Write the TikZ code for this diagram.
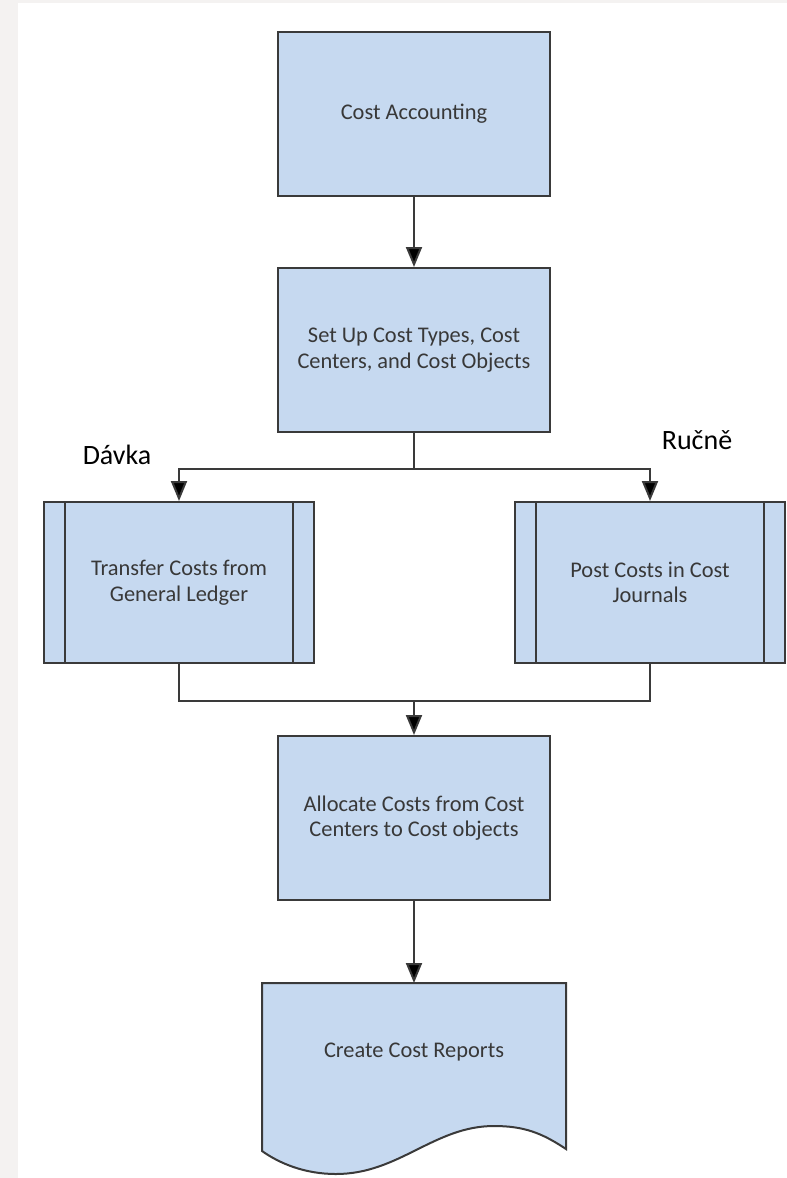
\documentclass[tikz,border=0pt]{standalone}
\usepackage{fontspec}
\setmainfont{Carlito}
\usepackage{tikz}
\definecolor{boxfill}{HTML}{C6D9F0}
\definecolor{boxline}{HTML}{3A3A3A}
\definecolor{boxtext}{HTML}{383838}
\definecolor{bgband}{HTML}{F4F2F1}
\tikzstyle{block}=[draw=boxline, fill=boxfill, line width=1pt, minimum width=136pt, minimum height=82pt, align=center, text=boxtext, font=\fontsize{11.2}{12.8}\selectfont]
\tikzstyle{predef}=[block, minimum width=135pt, minimum height=80.5pt]
\tikzstyle{edge}=[line width=1pt, draw=boxline]
\tikzstyle{arrow}=[edge,-{Triangle[width=8pt,length=10pt,fill=black]}]
\tikzstyle{tag}=[font=\fontsize{14}{16}\selectfont]
\usetikzlibrary{arrows.meta,positioning}

\begin{document}
\begin{tikzpicture}[x=0.5pt,y=-0.5pt]
\useasboundingbox (0,0) rectangle (787,1178);
\clip (0,0) rectangle (787,1178);
\fill[bgband] (0,0) rectangle (787,1178);
\fill[white] (18,3) rectangle (787,1178);
\node (acc) [block] at (414,114) {Cost Accounting};
\node (setup) [block, below=35pt of acc] {Set Up Cost Types, Cost\\Centers, and Cost Objects};
\coordinate [below=18pt of setup] (split);
\node (transfer) [predef, below=34pt of setup, xshift=-117.5pt] {Transfer Costs from\\General Ledger};
\node (post) [predef, below=34pt of setup, xshift=118pt] {Post Costs in Cost\\Journals};
\foreach \n in {transfer,post} {
  \draw[edge] ([xshift=11pt]\n.north west) -- ([xshift=11pt]\n.south west);
  \draw[edge] ([xshift=-11pt]\n.north east) -- ([xshift=-11pt]\n.south east);
}
\node (alloc) [block, below=151pt of setup] {Allocate Costs from Cost\\Centers to Cost objects};
\coordinate [above=17pt of alloc] (join);
\coordinate [below=41pt of alloc] (rep);
% document shape
\begin{scope}[shift={(rep)}]
\draw[edge, fill=boxfill] (-152,0) -- (152,0) -- (152,166)
  .. controls (128,150) and (110,143) .. (80,143)
  .. controls (20,143) and (-15,191) .. (-78,191)
  .. controls (-110,191) and (-135,180) .. (-152,168) -- cycle;
\node (report) [text=boxtext, font=\fontsize{11.2}{12.8}\selectfont] at (0,69) {Create Cost Reports};
\end{scope}
\node (batch) [tag] at (117,455) {Dávka};
\node (manual) [tag] at (697,440) {Ručně};
\draw[arrow] (acc) -- (setup);
\draw[edge] (setup) -- (split);
\draw[arrow] (split) -| (transfer);
\draw[arrow] (split) -| (post);
\draw[edge] (transfer) |- (join);
\draw[edge] (post) |- (join);
\draw[arrow] (join) -- (alloc);
\draw[arrow] (alloc) -- (rep);
\end{tikzpicture}
\end{document}
